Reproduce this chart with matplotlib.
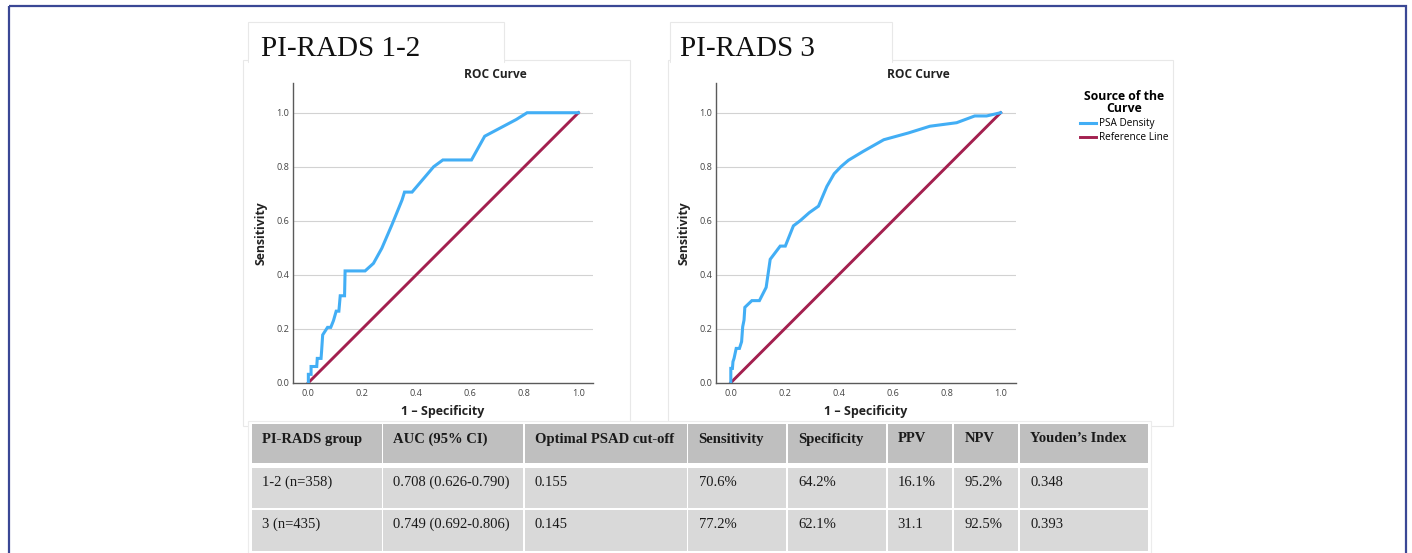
import matplotlib.pyplot as plt
from matplotlib.patches import Rectangle

# ROC curve points
fpr_12 = [0, 0, 0.01, 0.01, 0.031, 0.033, 0.047, 0.049, 0.053, 0.071, 0.083, 0.093, 0.103,
          0.113, 0.118, 0.134, 0.136, 0.21, 0.241, 0.272, 0.309, 0.347, 0.356, 0.384, 0.464,
          0.498, 0.604, 0.653, 0.77, 0.81, 1.0]
tpr_12 = [0, 0.031, 0.031, 0.06, 0.06, 0.09, 0.09, 0.117, 0.177, 0.205, 0.205, 0.23, 0.265,
          0.265, 0.322, 0.322, 0.414, 0.414, 0.442, 0.498, 0.584, 0.677, 0.706, 0.706, 0.8,
          0.825, 0.825, 0.913, 0.975, 1.0, 1.0]
fpr_3 = [0, 0, 0.006, 0.008, 0.012, 0.02, 0.032, 0.04, 0.044, 0.049, 0.052, 0.078, 0.106,
         0.131, 0.146, 0.183, 0.202, 0.232, 0.257, 0.291, 0.325, 0.356, 0.383, 0.409, 0.436,
         0.491, 0.567, 0.658, 0.738, 0.837, 0.904, 0.948, 1.0]
tpr_3 = [0, 0.053, 0.053, 0.078, 0.09, 0.127, 0.127, 0.152, 0.207, 0.232, 0.279, 0.304, 0.304,
         0.353, 0.457, 0.506, 0.506, 0.581, 0.6, 0.63, 0.654, 0.727, 0.774, 0.801, 0.824,
         0.857, 0.9, 0.925, 0.95, 0.963, 0.988, 0.988, 1.0]
ref_line = [0, 1]
ticks = [0.0, 0.2, 0.4, 0.6, 0.8, 1.0]

panel_titles = ["PI-RADS 1-2", "PI-RADS 3"]

table_header = ["PI-RADS group", "AUC (95% CI)", "Optimal PSAD cut-off", "Sensitivity",
                "Specificity", "PPV", "NPV", "Youden\u2019s Index"]
table_rows = [
    ["1-2 (n=358)", "0.708 (0.626-0.790)", "0.155", "70.6%", "64.2%", "16.1%", "95.2%", "0.348"],
    ["3 (n=435)", "0.749 (0.692-0.806)", "0.145", "77.2%", "62.1%", "31.1", "92.5%", "0.393"],
]

BLUE = "#42aef5"
RED = "#a3204f"
SANS = ["Open Sans", "DejaVu Sans"]
SERIF = "Liberation Serif"

W, H = 1412, 553
fig = plt.figure(figsize=(W / 100, H / 100), dpi=100)

# pixel overlay for frames, tabs and the table
ov = fig.add_axes([0, 0, 1, 1], zorder=0)
ov.set_xlim(0, W)
ov.set_ylim(H, 0)
ov.axis("off")


def fig_rect(x0, y0, x1, y1):
    return [x0 / W, 1 - y1 / H, (x1 - x0) / W, (y1 - y0) / H]


# outer blue frame (bottom edge is cropped off)
ov.add_patch(Rectangle((9, 6), 1397, 560, fc="none", ec="#3a4795", lw=1.6))

# chart panels with title tabs
panels = [((243, 60, 630, 426), (248, 22, 504, 62), 260.7),
          ((668, 60, 1173, 426), (670, 22, 892, 62), 680)]
for (p, tab, tx), title in zip(panels, panel_titles):
    ov.add_patch(Rectangle((p[0], p[1]), p[2] - p[0], p[3] - p[1], fc="white", ec="#e8e8e8", lw=0.8))
    ov.add_patch(Rectangle((tab[0], tab[1]), tab[2] - tab[0], tab[3] - tab[1], fc="white", ec="#e8e8e8", lw=0.8))
    ov.add_patch(Rectangle((tab[0] + 0.5, tab[3] - 3), tab[2] - tab[0] - 1, 5, fc="white", ec="none"))
    ov.text(tx, 56, title, family=SERIF, fontsize=21, color="#111111", ha="left", va="baseline")

# ROC axes
axes_px = [(292.7, 83.3, 593.0, 382.7), (715.7, 83.3, 1016.0, 382.7)]
curves = [(fpr_12, tpr_12), (fpr_3, tpr_3)]
xlims = [(-0.058, 1.054), (-0.056, 1.057)]
axs = []
for box, (fx, ty), xl in zip(axes_px, curves, xlims):
    ax = fig.add_axes(fig_rect(*box), zorder=2)
    ax.set_facecolor("none")
    ax.set_xlim(*xl)
    ax.set_ylim(0, 1.109)
    for s in ["top", "right"]:
        ax.spines[s].set_visible(False)
    for s in ["left", "bottom"]:
        ax.spines[s].set_color("#5a5a5a")
        ax.spines[s].set_linewidth(1.0)
    ax.set_xticks(ticks)
    ax.set_yticks(ticks)
    ax.set_xticklabels([f"{t:.1f}" for t in ticks])
    ax.set_yticklabels([f"{t:.1f}" for t in ticks])
    ax.tick_params(length=0, labelsize=6.6, labelcolor="#444444", pad=2.5)
    ax.tick_params(axis="x", pad=4.5)
    for lab in ax.get_xticklabels() + ax.get_yticklabels():
        lab.set_family(SANS)
    for t in ticks[1:]:
        ax.axhline(t, color="#d2d2d2", lw=0.8, zorder=0)
    ax.plot(fx, ty, color=BLUE, lw=2.2, label="PSA Density", solid_joinstyle="miter", zorder=3)
    ax.plot(ref_line, ref_line, color=RED, lw=2.1, label="Reference Line", zorder=2)
    ax.set_xlabel("1 \u2013 Specificity", family=SANS, fontsize=9, fontweight="bold", color="#222222")
    ax.set_ylabel("Sensitivity", family=SANS, fontsize=8.8, fontweight="bold", color="#222222")
    ax.xaxis.set_label_coords(0.5, -0.097)
    ax.yaxis.set_label_coords(-0.107, 0.5)
    ax.xaxis.label.set_va("center")
    ax.yaxis.label.set_va("center")
    ax.text(0.674, 1.031, "ROC Curve", transform=ax.transAxes, family=SANS, fontsize=8.6,
            fontweight="bold", color="#222222", ha="center", va="center")
    axs.append(ax)

leg = axs[1].legend(loc="upper left", bbox_to_anchor=(1075 / W, 1 - 85 / H),
                    bbox_transform=fig.transFigure, frameon=False, borderpad=0,
                    title="Source of the\nCurve", handlelength=1.6, handletextpad=0.3,
                    labelspacing=0.28, prop={"family": SANS, "size": 7.2})
title = leg.get_title()
title.set_fontweight("bold")
title.set_fontsize(8.8)
title.set_family(SANS)
title.set_linespacing(0.95)
title.set_multialignment("center")
leg._legend_box.sep = 2

# results table
col_edges = [251, 382.3, 523.7, 687.5, 787.3, 886.7, 953.3, 1019.3, 1148.3]
row_edges = [(424, 463.3), (467.7, 507.7), (509.5, 550.7)]
ov.add_patch(Rectangle((248, 421), 903, 133, fc="white", ec="#ececec", lw=0.8))
all_rows = [table_header] + table_rows
text_y = [439, 482, 524]
for r, (row, (y0, y1)) in enumerate(zip(all_rows, row_edges)):
    fc = "#bfbfbf" if r == 0 else "#d9d9d9"
    for c, val in enumerate(row):
        x0, x1 = col_edges[c], col_edges[c + 1]
        ov.add_patch(Rectangle((x0 + 0.8, y0), x1 - x0 - 1.6, y1 - y0, fc=fc, ec="none"))
        ov.text(x0 + 11, text_y[r], val, family=SERIF, fontsize=10.5,
                fontweight="bold" if r == 0 else "normal", color="#1a1a1a",
                ha="left", va="center")

fig.savefig("out.png", dpi=100)
